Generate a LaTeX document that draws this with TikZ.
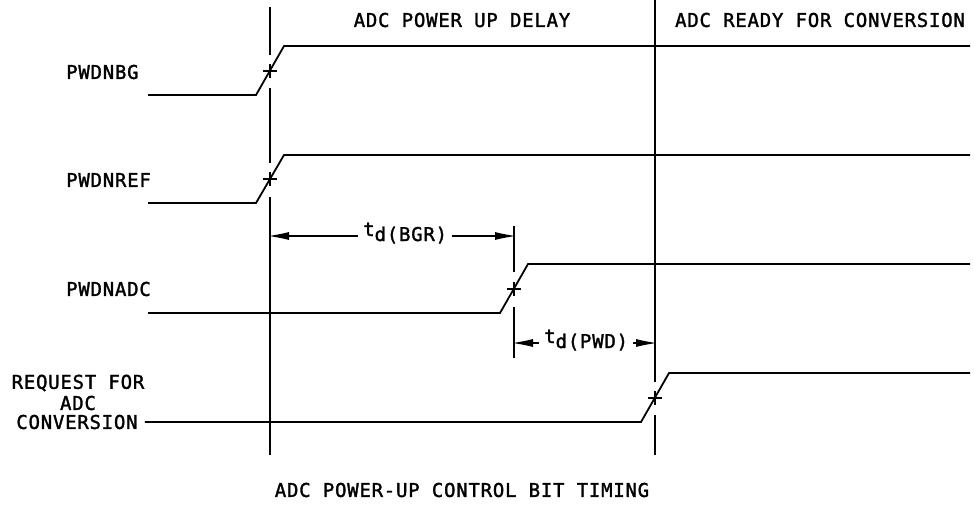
\documentclass[tikz,border=0pt]{standalone}
\usepackage{fontspec}
\usetikzlibrary{arrows.meta}
\newfontfamily\simplex[LetterSpace=4,FakeBold=1.6]{DejaVu Sans Mono}
\begin{document}
\begin{tikzpicture}[x=1pt,y=-1pt,
  lbl/.style={font={\simplex\fontsize{19}{22}\selectfont}, inner sep=0pt},
  tlbl/.style={font={\simplex\fontsize{19}{22}\selectfont}, inner xsep=5pt, inner ysep=0pt},
  wire/.style={line width=1.8pt, line join=miter},
  grid/.style={line width=1.8pt},
  dim/.style={line width=1.8pt, -{Latex[length=20pt,width=8pt,line width=0pt]}, shorten >=-1pt},
  tick/.style={line width=1.8pt}]
\useasboundingbox (0,0) rectangle (974,504);

% titles
\node[lbl] (t1) at (462,20) {ADC POWER UP DELAY};
\node[lbl] (t2) at (820,20) {ADC READY FOR CONVERSION};
\node[lbl] (cap) at (462,490) {ADC POWER-UP CONTROL BIT TIMING};

% signal names
\node[lbl, anchor=west] (nbg)  at (66,72)  {PWDNBG};
\node[lbl, anchor=west] (nref) at (66,180) {PWDNREF};
\node[lbl, anchor=west] (nadc) at (66,289) {PWDNADC};
\node[lbl] (req1) at (78,383) {REQUEST FOR};
\node[lbl] (req2) at (78,403) {ADC};
\node[lbl] (req3) at (77,422) {CONVERSION};

% vertical reference lines
\draw[grid] (270,7) -- (270,55);
\draw[grid] (270,88) -- (270,163);
\draw[grid] (270,197) -- (270,455);
\draw[grid] (514,226) -- (514,272);
\draw[grid] (514,307) -- (514,358);
\draw[grid] (655,0) -- (655,382);
\draw[grid] (655,415) -- (655,455);

% waveforms
\draw[wire] (148,95) -- (256,95) -- (284,46) -- (970,46);
\draw[wire] (148,203) -- (256,203) -- (284,155) -- (970,155);
\draw[wire] (148,313) -- (500,313) -- (528,264) -- (970,264);
\draw[wire] (req3.east) ++(7,0) coordinate (r0) -- (641,422) -- (669,373) -- (970,373);

% crossing marks
\foreach \x/\y in {270/71, 270/179, 514/289, 655/398}{
  \draw[tick] (\x-7,\y) -- (\x+7,\y);
  \draw[tick] (\x,\y-7) -- (\x,\y+7);
}

% timing dimensions
\coordinate (b1) at (270,236);
\coordinate (b2) at (514,236);
\coordinate (p1) at (514,343);
\coordinate (p2) at (655,343);
\node[tlbl, anchor=base west] (tbgr) at (358,236) {t\raisebox{-5pt}{d(BGR)}};
\node[tlbl, anchor=base west] (tpwd) at (539,343) {t\raisebox{-5pt}{d(PWD)}};
\draw[dim] (tbgr.base west) -- (b1);
\draw[dim] (tbgr.base east) -- (b2);
\draw[dim] (tpwd.base west) -- (p1);
\draw[dim] (tpwd.base east) -- (p2);
\end{tikzpicture}
\end{document}
